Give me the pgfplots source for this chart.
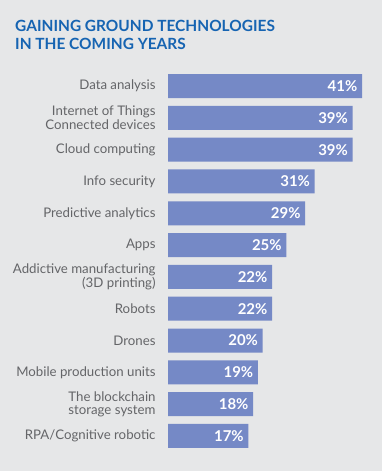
\documentclass[border=0pt]{standalone}
\usepackage{pgfplots}
\pgfplotsset{compat=1.18}
\usepackage{fontspec}
\setmainfont{Lato}
\definecolor{bg}{RGB}{230,231,232}
\definecolor{barc}{RGB}{117,137,198}
\definecolor{lab}{RGB}{100,101,104}
\definecolor{ttl}{RGB}{22,100,178}
\begin{document}
\begin{tikzpicture}[x=1bp,y=1bp]
\fill[bg] (0,0) rectangle (382,471);
\node[anchor=base west,font=\fontsize{15.5}{17.5}\selectfont\bfseries,text=ttl,inner sep=0pt] at (15,471-31.7) {GAINING GROUND TECHNOLOGIES};
\node[anchor=base west,font=\fontsize{15.5}{17.5}\selectfont\bfseries,text=ttl,inner sep=0pt] at (15,471-49.2) {IN THE COMING YEARS};
\begin{axis}[
  at={(168bp,19.1bp)}, anchor=south west,
  scale only axis, width=194bp, height=381.8bp,
  xbar, bar width=24bp,
  xmin=0, xmax=41,
  ymin=-0.5, ymax=11.5, y dir=reverse,
  axis line style={draw=none}, tick style={draw=none},
  xtick=\empty,
  ytick={0,...,11},
  yticklabels={Data analysis,{Internet of Things\\Connected devices},Cloud computing,Info security,Predictive analytics,Apps,{Addictive manufacturing\\(3D printing)},Robots,Drones,Mobile production units,{The blockchain\\storage system},RPA/Cognitive robotic},
  yticklabel style={align=right,font=\fontsize{13.3}{13.5}\selectfont,text=lab,inner sep=0pt,xshift=-8bp},
  /pgf/number format/assume math mode=true,
  nodes near coords={\pgfmathprintnumber{\pgfplotspointmeta}\%},
  point meta=x,
  nodes near coords style={anchor=east,xshift=-4.5bp,text=white,font=\fontsize{15}{16}\selectfont\bfseries,inner sep=0pt},
]
\addplot[fill=barc,draw=none] coordinates {
(41,0) (39,1) (39,2) (31,3) (29,4) (25,5) (22,6) (22,7) (20,8) (19,9) (18,10) (17,11)};
\end{axis}
\end{tikzpicture}
\end{document}
